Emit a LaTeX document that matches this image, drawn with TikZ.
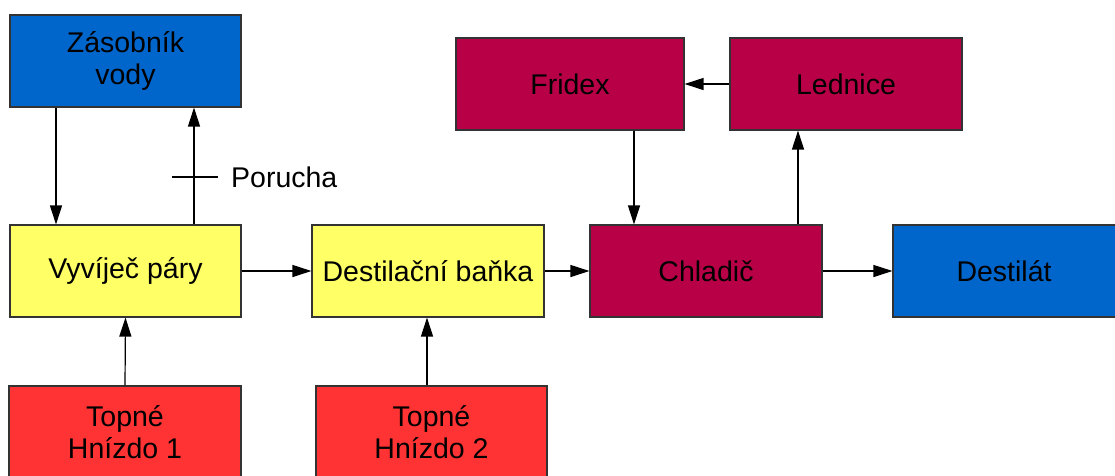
\documentclass[tikz,border=0pt]{standalone}
\usepackage{fontspec}
\setmainfont{Liberation Sans}
\usetikzlibrary{arrows.meta}
\definecolor{cblue}{HTML}{0066CC}
\definecolor{cyellow}{HTML}{FFFF66}
\definecolor{ccrimson}{HTML}{B80047}
\definecolor{cred}{HTML}{FF3333}
\definecolor{cborder}{HTML}{333333}
\tikzset{
  box/.style={draw=cborder, line width=1.1pt, minimum height=92pt, inner sep=0pt,
    align=center, font=\fontsize{28.5}{31.5}\selectfont, text=black},
  arr/.style={line width=1.2pt, -{Triangle[length=19pt,width=12pt]}},
  plain/.style={line width=1.1pt}
}
\begin{document}
\begin{tikzpicture}[x=1pt,y=-1pt]
\useasboundingbox (0,0) rectangle (1115,475);
% boxes
\node[box, fill=cblue, minimum width=231pt] (zas) at (125.5,61) {Zásobník\\vody};
\node[box, fill=cyellow, minimum width=231pt] (vyv) at (125.5,271) {Vyvíječ páry};
\node[box, fill=cyellow, minimum width=232pt] (des) at (428,271) {Destilační baňka};
\node[box, fill=ccrimson, minimum width=232pt] (chl) at (706,271) {Chladič};
\node[box, fill=cblue, minimum width=240pt] (dst) at (1013,271) {};
\node[font=\fontsize{28.5}{31.5}\selectfont] (dstl) at (1004,271) {Destilát};
\node[box, fill=ccrimson, minimum width=228pt] (fri) at (570,84) {Fridex};
\node[box, fill=ccrimson, minimum width=232pt] (led) at (846,84) {Lednice};
\node[box, fill=cred, minimum width=232pt, minimum height=100pt] (top1) at (125,436) {};
\node[box, fill=cred, minimum width=231pt, minimum height=100pt] (top2) at (431.5,436) {};
\node[align=center, font=\fontsize{28.5}{31.5}\selectfont] (top1l) at (125,432) {Topné\\Hnízdo 1};
\node[align=center, font=\fontsize{28.5}{31.5}\selectfont] (top2l) at (431.5,432) {Topné\\Hnízdo 2};
% helper coordinates
\coordinate (a1) at (56,0);
\coordinate (a2) at (194,0);
\coordinate (a3) at (427,0);
\coordinate (a4) at (634,0);
\coordinate (a5) at (798,0);
\coordinate (t) at (194,177);
% connectors
\draw[arr] (zas.south -| a1) -- (vyv.north -| a1);
\draw[arr] (vyv.north -| a2) -- (zas.south -| a2);
\draw[plain] ([xshift=-22pt]t) coordinate (tl) -- ([xshift=24pt]t) coordinate (tr);
\node[anchor=west, inner sep=0pt, font=\fontsize{28.5}{31.5}\selectfont] (por) at ([xshift=13pt]tr) {Porucha};
\draw[arr] (vyv.east) -- (des.west);
\draw[arr] (des.east) -- (chl.west);
\draw[arr] (chl.east) -- (dst.west);
\draw[arr] (top1.north) -- (vyv.south);
\draw[arr] (top2.north -| a3) -- (des.south -| a3);
\draw[arr] (fri.south -| a4) -- (chl.north -| a4);
\draw[arr] (chl.north -| a5) -- (led.south -| a5);
\draw[arr] (led.west) -- (fri.east);
\end{tikzpicture}
\end{document}
